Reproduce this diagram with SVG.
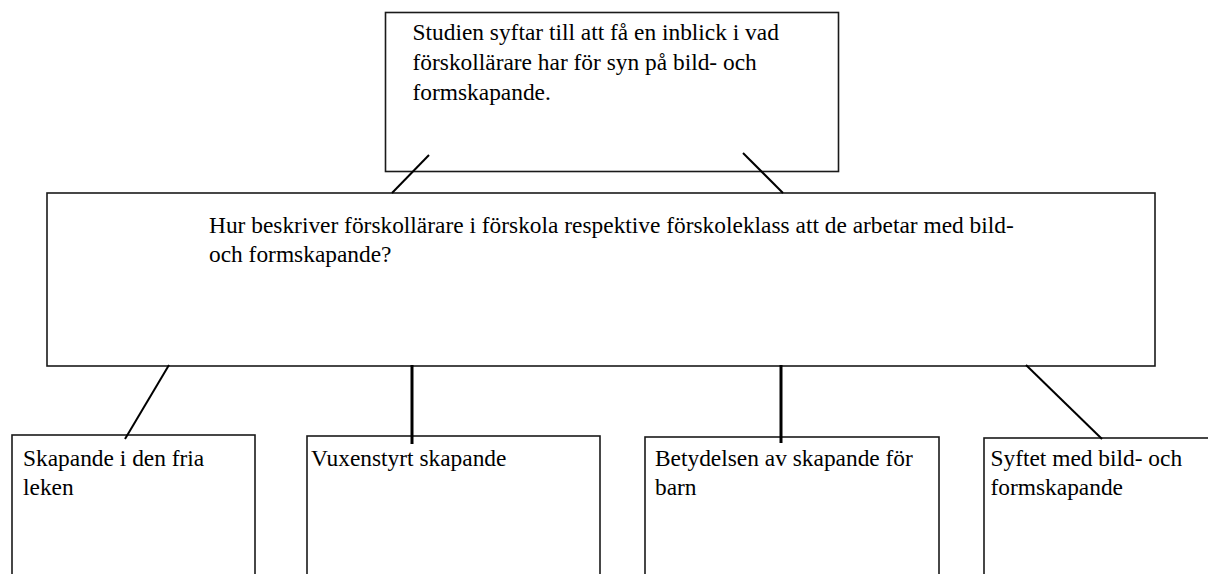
<svg xmlns="http://www.w3.org/2000/svg" width="1208" height="574" viewBox="0 0 1208 574">
<style>
.box{fill:#fff;stroke:#1a1a1a;stroke-width:1.6}
.t{font-family:"Liberation Serif","DejaVu Serif",serif;font-size:23.4px;fill:#000}
.c{stroke:#000;stroke-width:2;fill:none}
.cv{stroke:#000;stroke-width:3;fill:none}
</style>
<rect width="1208" height="574" fill="#fff"/>
<g id="n-top">
<rect class="box" x="385.5" y="12.5" width="453" height="159"/>
<text class="t" x="412.5" y="39.5">Studien syftar till att få en inblick i vad</text>
<text class="t" x="412.5" y="70">förskollärare har för syn på bild- och</text>
<text class="t" x="412.5" y="100">formskapande.</text>
</g>
<g id="n-mid">
<rect class="box" x="47" y="193" width="1108" height="173"/>
<text class="t" x="209" y="233">Hur beskriver förskollärare i förskola respektive förskoleklass att de arbetar med bild-</text>
<text class="t" x="209" y="262">och formskapande?</text>
</g>
<g id="n-b1">
<rect class="box" x="12" y="435" width="243" height="200"/>
<text class="t" x="23" y="466">Skapande i den fria</text>
<text class="t" x="23" y="495">leken</text>
</g>
<g id="n-b2">
<rect class="box" x="307" y="436" width="293" height="200"/>
<text class="t" x="311" y="466">Vuxenstyrt skapande</text>
</g>
<g id="n-b3">
<rect class="box" x="645" y="437" width="294" height="200"/>
<text class="t" x="655" y="466">Betydelsen av skapande för</text>
<text class="t" x="655" y="495">barn</text>
</g>
<g id="n-b4">
<rect class="box" x="984" y="438" width="300" height="200"/>
<text class="t" x="990.5" y="466">Syftet med bild- och</text>
<text class="t" x="990.5" y="495">formskapande</text>
</g>
<g id="connectors">
<line class="c" x1="429" y1="155" x2="392" y2="193"/>
<line class="c" x1="743" y1="153" x2="783" y2="193"/>
<line class="c" x1="169" y1="365" x2="125" y2="439"/>
<line class="cv" x1="412" y1="365" x2="412" y2="444"/>
<line class="cv" x1="781" y1="365" x2="781" y2="443"/>
<line class="c" x1="1026" y1="365" x2="1102" y2="439"/>
</g>
</svg>
